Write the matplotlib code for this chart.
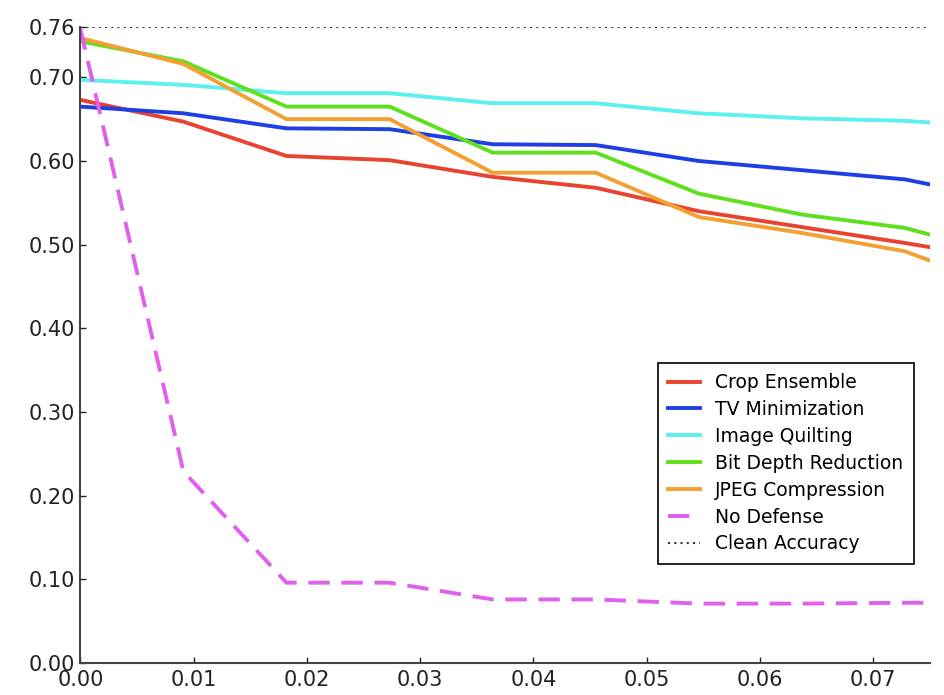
import matplotlib
matplotlib.use("Agg")
import matplotlib.pyplot as plt

# perturbation strength (x) and top-1 accuracy of each defense
eps = [0.0, 0.0091, 0.0182, 0.0273, 0.0364, 0.0455, 0.0546, 0.0637, 0.0728, 0.075]

crop_ensemble = [0.673, 0.647, 0.606, 0.601, 0.581, 0.568, 0.540, 0.521, 0.502, 0.497]
tv_minimization = [0.665, 0.657, 0.639, 0.638, 0.620, 0.619, 0.600, 0.589, 0.578, 0.572]
image_quilting = [0.697, 0.691, 0.681, 0.681, 0.669, 0.669, 0.657, 0.651, 0.648, 0.646]
bit_depth = [0.743, 0.719, 0.665, 0.665, 0.610, 0.610, 0.561, 0.536, 0.520, 0.512]
jpeg = [0.747, 0.716, 0.650, 0.650, 0.586, 0.586, 0.533, 0.514, 0.492, 0.481]
no_defense = [0.758, 0.229, 0.096, 0.096, 0.076, 0.076, 0.071, 0.071, 0.072, 0.072]
clean_acc = 0.76

yticks = [0.0, 0.1, 0.2, 0.3, 0.4, 0.5, 0.6, 0.7, 0.76]
xticks = [0.0, 0.01, 0.02, 0.03, 0.04, 0.05, 0.06, 0.07]

fig = plt.figure(figsize=(9.45, 6.95), dpi=100)
ax = fig.add_axes([0.085, 0.046, 0.899, 0.915])

lw = 2.8
ax.plot(eps, crop_ensemble, color="#e8432e", lw=lw, label="Crop Ensemble")
ax.plot(eps, tv_minimization, color="#1e3fe4", lw=lw, label="TV Minimization")
ax.plot(eps, image_quilting, color="#5cf0f0", lw=lw, label="Image Quilting")
ax.plot(eps, bit_depth, color="#5fe01e", lw=lw, label="Bit Depth Reduction")
ax.plot(eps, jpeg, color="#f2a032", lw=lw, label="JPEG Compression")
ax.plot(eps, no_defense, color="#e060ee", lw=lw, ls=(0, (5.5, 3)), label="No Defense")
ax.axhline(clean_acc, color="#333333", lw=1.5, ls=(0, (1, 2)), label="Clean Accuracy")

ax.set_xlim(0, 0.075)
ax.set_ylim(0, 0.76)
ax.set_xticks(xticks)
ax.set_yticks(yticks)
ax.set_xticklabels(["%.2f" % t for t in xticks])
ax.set_yticklabels(["%.2f" % t for t in yticks])
ax.tick_params(direction="in", length=4, width=1, labelsize=15, colors="#222222")
ax.tick_params(axis="x", pad=5)

for s in ["top", "right"]:
    ax.spines[s].set_visible(False)
for s in ["left", "bottom"]:
    ax.spines[s].set_linewidth(1.5)
    ax.spines[s].set_color("#444444")

leg = ax.legend(loc="upper right", bbox_to_anchor=(0.981, 0.472), borderaxespad=0,
                fontsize=13.5, fancybox=False, framealpha=1, edgecolor="black",
                handlelength=1.7, labelspacing=0.42, borderpad=0.55)
leg.get_frame().set_linewidth(1.2)

fig.savefig("out.png", dpi=100)
